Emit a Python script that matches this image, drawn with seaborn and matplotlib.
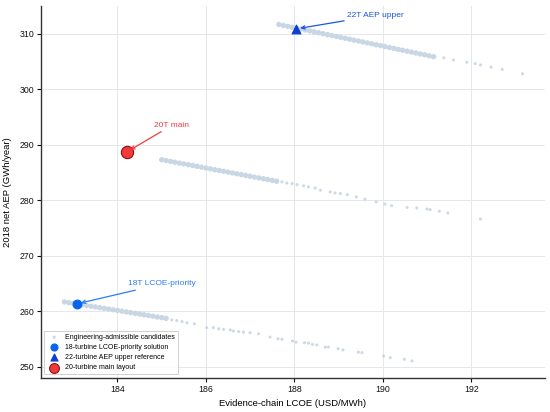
import numpy as np
import pandas as pd
import matplotlib
matplotlib.use("Agg")
import matplotlib.pyplot as plt
import seaborn as sns

# candidate points (LCOE in USD/MWh, AEP in GWh/year)
# each family: a dense band first, then a sparse tail
lcoe_22 = [187.65, 187.75, 187.85, 187.95, 188.05, 188.15, 188.25, 188.35, 188.45, 188.55,
           188.65, 188.75, 188.85, 188.95, 189.05, 189.15, 189.25, 189.35, 189.45, 189.55,
           189.65, 189.75, 189.85, 189.95, 190.05, 190.15, 190.25, 190.35, 190.45, 190.55,
           190.65, 190.75, 190.85, 190.95, 191.05, 191.15,
           191.38, 191.60, 191.90, 192.09, 192.21, 192.45, 192.70, 193.16]
aep_22 = [311.70, 311.53, 311.37, 311.20, 311.03, 310.87, 310.70, 310.54, 310.37, 310.20,
          310.04, 309.87, 309.70, 309.54, 309.37, 309.21, 309.04, 308.87, 308.71, 308.54,
          308.38, 308.21, 308.04, 307.88, 307.71, 307.54, 307.38, 307.21, 307.05, 306.88,
          306.71, 306.55, 306.38, 306.22, 306.05, 305.88,
          305.67, 305.30, 304.90, 304.65, 304.40, 304.00, 303.60, 302.80]

lcoe_20 = [185.00, 185.10, 185.20, 185.30, 185.40, 185.50, 185.60, 185.70, 185.80, 185.90,
           186.00, 186.10, 186.20, 186.30, 186.40, 186.50, 186.60, 186.70, 186.80, 186.90,
           187.00, 187.10, 187.20, 187.30, 187.40, 187.50, 187.60,
           187.72, 187.83, 187.95, 188.06, 188.21, 188.32, 188.47, 188.59, 188.81, 188.92,
           189.04, 189.20, 189.40, 189.60, 189.85, 190.05, 190.20, 190.55, 190.77, 191.00,
           191.07, 191.28, 191.47, 192.21]
aep_20 = [287.30, 287.15, 287.00, 286.85, 286.70, 286.56, 286.41, 286.26, 286.11, 285.96,
          285.81, 285.66, 285.51, 285.36, 285.21, 285.07, 284.92, 284.77, 284.62, 284.47,
          284.32, 284.17, 284.02, 283.87, 283.72, 283.57, 283.42,
          283.30, 283.10, 283.00, 282.80, 282.60, 282.40, 282.20, 281.80, 281.50, 281.30,
          281.20, 281.00, 280.60, 280.20, 279.70, 279.30, 279.00, 278.70, 278.60, 278.40,
          278.30, 278.00, 277.70, 276.60]

lcoe_18 = [182.80, 182.90, 183.00, 183.10, 183.20, 183.30, 183.40, 183.50, 183.60, 183.70,
           183.80, 183.90, 184.00, 184.10, 184.20, 184.30, 184.40, 184.50, 184.60, 184.70,
           184.80, 184.90, 185.00, 185.10,
           185.23, 185.34, 185.46, 185.57, 185.74, 186.02, 186.17, 186.29, 186.40, 186.55,
           186.62, 186.74, 186.85, 187.00, 187.19, 187.45, 187.63, 187.72, 187.96, 188.04,
           188.23, 188.32, 188.41, 188.51, 188.70, 188.77, 188.99, 189.10, 189.45, 189.53,
           190.02, 190.17, 190.49, 190.66]
aep_18 = [261.65, 261.52, 261.40, 261.27, 261.14, 261.01, 260.88, 260.75, 260.62, 260.50,
          260.37, 260.24, 260.11, 259.98, 259.85, 259.72, 259.59, 259.46, 259.33, 259.20,
          259.07, 258.94, 258.81, 258.68,
          258.40, 258.30, 258.10, 257.90, 257.70, 257.00, 257.00, 256.80, 256.70, 256.60,
          256.40, 256.30, 256.20, 256.10, 255.90, 255.30, 255.00, 254.90, 254.60, 254.40,
          254.30, 254.20, 254.00, 253.90, 253.50, 253.50, 253.20, 253.00, 252.60, 252.50,
          251.90, 251.60, 251.30, 251.00]

# how many leading points of each family form the dense band
n_denso = [36, 27, 24]

# highlighted solutions
sol_labels = ["18-turbine LCOE-priority solution", "22-turbine AEP upper reference", "20-turbine main layout"]
sol_short = ["18T LCOE-priority", "22T AEP upper", "20T main"]
sol_lcoe = [183.08, 188.04, 184.21]
sol_aep = [261.3, 310.9, 288.7]
text_lcoe = [185.01, 189.83, 185.23]
text_aep = [264.9, 313.3, 293.5]

familias = [(lcoe_22, aep_22), (lcoe_20, aep_20), (lcoe_18, aep_18)]
filas = []
for (xs, ys), nd in zip(familias, n_denso):
    for j, (x, y) in enumerate(zip(xs, ys)):
        filas.append({"lcoe": x, "aep": y, "tramo": "denso" if j < nd else "cola"})
cand = pd.DataFrame(filas)

plt.rcParams["font.family"] = ["Liberation Sans", "DejaVu Sans"]

fig = plt.figure(figsize=(5.5, 4.12), dpi=100)
ax = fig.add_axes([0.0745, 0.0835, 0.9165, 0.9015])

sns.scatterplot(data=cand[cand["tramo"] == "denso"], x="lcoe", y="aep", ax=ax,
                color="#c9d6e4", s=15, edgecolor="none", alpha=1.0,
                label="Engineering-admissible candidates", zorder=2)
sns.scatterplot(data=cand[cand["tramo"] == "cola"], x="lcoe", y="aep", ax=ax,
                color="#c2d0df", s=5, edgecolor="none", alpha=0.8, legend=False, zorder=2)

estilos = [
    dict(marker="o", color="#0a63ef", s=40, edgecolor="#0a63ef"),
    dict(marker="^", color="#0d3fd0", s=40, edgecolor="#0d3fd0"),
    dict(marker="o", color="#f33a3a", s=78, edgecolor="#8a1010"),
]
colores_txt = ["#2b7cf0", "#1b55e0", "#f03c3c"]

for i in range(3):
    sns.scatterplot(x=[sol_lcoe[i]], y=[sol_aep[i]], ax=ax, label=sol_labels[i],
                    linewidth=0.8, zorder=5, **estilos[i])
    ax.annotate(sol_short[i], xy=(sol_lcoe[i], sol_aep[i]), xytext=(text_lcoe[i], text_aep[i]),
                ha="center", va="center", fontsize=6, color=colores_txt[i],
                arrowprops=dict(arrowstyle="->", color=colores_txt[i], lw=0.9,
                                shrinkA=0, shrinkB=3),
                zorder=6)

ax.set_xlim(182.27, 193.67)
ax.set_ylim(248, 315)
ax.set_xticks([184, 186, 188, 190, 192])
ax.set_yticks([250, 260, 270, 280, 290, 300, 310])
ax.tick_params(labelsize=6.3, length=3, width=0.8, colors="#111111", pad=2)
ax.grid(True, color="#e4e7ec", linewidth=0.7)
ax.set_axisbelow(True)
for lado in ["top", "right"]:
    ax.spines[lado].set_visible(False)
for lado in ["left", "bottom"]:
    ax.spines[lado].set_color("#333333")
    ax.spines[lado].set_linewidth(1.0)

ax.set_xlabel("Evidence-chain LCOE (USD/MWh)", fontsize=6.8, labelpad=4)
ax.set_ylabel("2018 net AEP (GWh/year)", fontsize=6.8, labelpad=5)

leg = ax.legend(loc="lower left", fontsize=5, frameon=True, fancybox=False,
                edgecolor="#bbbbbb", borderaxespad=0.5, handletextpad=0.6,
                labelspacing=0.45, markerscale=0.8)
leg.get_frame().set_linewidth(0.6)
leg.legend_handles[0].set_sizes([5])

fig.savefig("out.png", dpi=100)
